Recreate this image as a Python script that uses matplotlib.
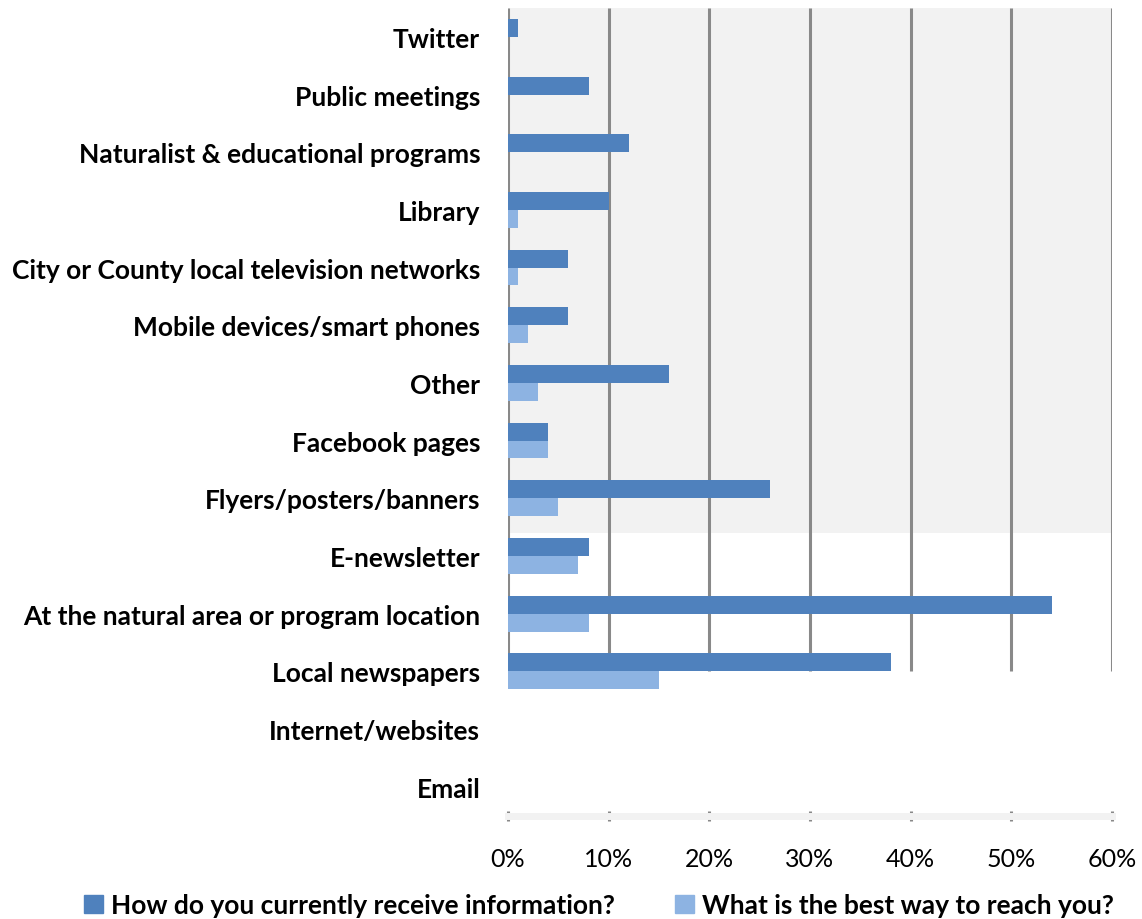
import numpy as np
import matplotlib
matplotlib.use("Agg")
import matplotlib.pyplot as plt
from matplotlib.patches import Patch

categories = [
    "Twitter",
    "Public meetings",
    "Naturalist & educational programs",
    "Library",
    "City or County local television networks",
    "Mobile devices/smart phones",
    "Other",
    "Facebook pages",
    "Flyers/posters/banners",
    "E-newsletter",
    "At the natural area or program location",
    "Local newspapers",
    "Internet/websites",
    "Email",
]
current_info = [1, 8, 12, 10, 6, 6, 16, 4, 26, 8, 54, 38, np.nan, np.nan]
best_way = [0, 0, 0, 1, 1, 2, 3, 4, 5, 7, 8, 15, np.nan, np.nan]
series_names = ["How do you currently receive information?",
                "What is the best way to reach you?"]
x_ticks = [0, 10, 20, 30, 40, 50, 60]
x_tick_labels = ["0%", "10%", "20%", "30%", "40%", "50%", "60%"]

dark = "#4F81BD"
light = "#8DB3E2"
grid_c = "#898989"
shade = "#F2F2F2"

plt.rcParams["font.family"] = ["Lato", "DejaVu Sans"]

fig = plt.figure(figsize=(11.42, 9.2), dpi=100)
ax = fig.add_axes([508 / 1142, 1 - 816.5 / 920, (1112 - 508) / 1142, (816.5 - 9) / 920])

n = len(categories)
y = np.arange(n)
h = 0.31

# shaded upper block of the plot area
ax.axhspan(-0.5, 8.6, xmin=0, xmax=1, color=shade, zorder=0, lw=0)

# vertical gridlines
ax.vlines(x_ticks, -0.5, 11.0, colors=grid_c, linewidth=2.2, zorder=1)

ax.barh(y - h / 2, current_info, height=h, color=dark, zorder=2, label=series_names[0])
ax.barh(y + h / 2, best_way, height=h, color=light, zorder=2, label=series_names[1])

ax.set_xlim(0, 60)
ax.set_ylim(n - 0.5, -0.5)

ax.set_yticks(y)
ax.set_yticklabels(categories, fontsize=19, fontweight="bold")
ax.tick_params(axis="y", length=0, pad=20)

ax.set_xticks(x_ticks)
ax.set_xticklabels(x_tick_labels, fontsize=18)
ax.tick_params(axis="x", direction="inout", length=7, width=2.2, color=grid_c, pad=19)

for s in ["top", "right", "left"]:
    ax.spines[s].set_visible(False)
ax.spines["bottom"].set_color(shade)
ax.spines["bottom"].set_linewidth(5)

handles = [Patch(color=dark), Patch(color=light)]
leg = fig.legend(handles, series_names, loc="center", bbox_to_anchor=(0.5245, 1 - 906 / 920),
                 ncol=2, frameon=False, handlelength=0.7, handleheight=0.7, handletextpad=0.3,
                 columnspacing=2.3, prop={"size": 19, "weight": "bold"})

fig.savefig("out.png", dpi=100)
